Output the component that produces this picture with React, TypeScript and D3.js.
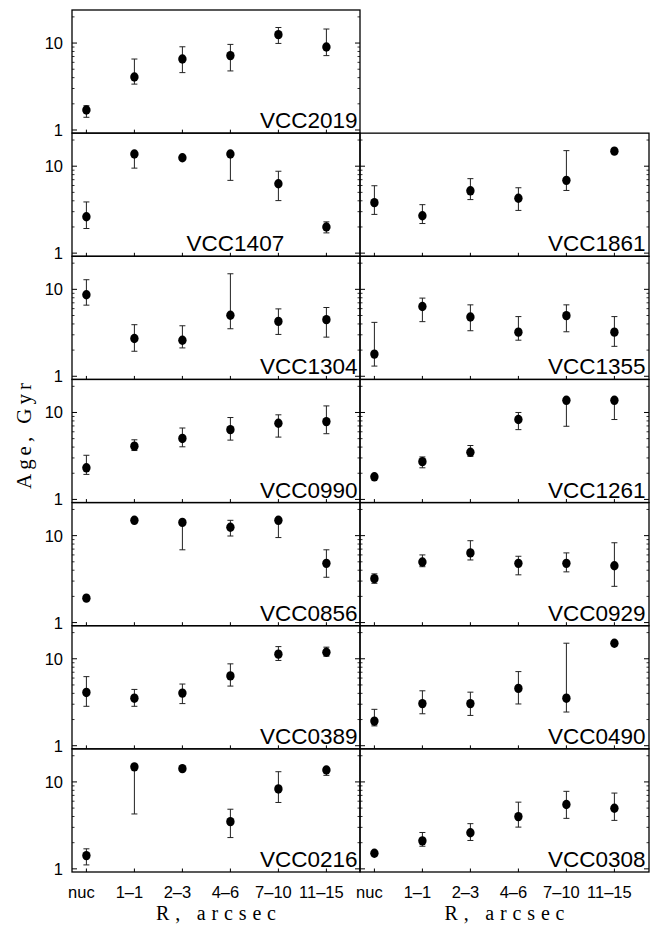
import React from "react";
import * as d3 from "d3";

// ---- data ----
const categories = ["nuc", "1–1", "2–3", "4–6", "7–10", "11–15"];
const yTickValues = [1, 10];
const yMinorValues = [2, 3, 4, 5, 6, 7, 8, 9, 20];

// each entry: [age, lower, upper] (Gyr); null = no error bar
type Pt = [number, number | null, number | null];

const vcc2019: Pt[] = [[1.7, 1.4, 1.9], [4.07, 3.37, 6.55], [6.55, 4.57, 9.06], [7.17, 4.78, 9.65], [12.5, 9.9, 15.1], [9.0, 7.17, 14.5]];
const vcc1407: Pt[] = [[2.62, 1.92, 3.88], [13.8, 9.5, 13.8], [12.5, null, null], [13.8, 6.87, 13.8], [6.29, 4.02, 8.75], [2.0, 1.71, 2.29]];
const vcc1861: Pt[] = [[3.81, 2.79, 5.96], [2.69, 2.19, 3.61], [5.21, 4.13, 7.19], [4.28, 3.1, 5.65], [6.87, 5.26, 15.1], [14.9, null, null]];
const vcc1304: Pt[] = [[8.67, 6.58, 12.9], [2.72, 1.94, 3.92], [2.6, 2.12, 3.81], [5.03, 3.52, 15.1], [4.28, 3.03, 5.96], [4.48, 2.82, 6.18]];
const vcc1355: Pt[] = [[1.8, 1.31, 4.17], [6.35, 4.25, 7.93], [4.81, 3.34, 6.63], [3.22, 2.6, 4.86], [4.98, 3.25, 6.63], [3.22, 2.21, 4.86]];
const vcc0990: Pt[] = [[2.31, 1.94, 3.22], [4.1, 3.65, 4.85], [5.03, 4.03, 6.63], [6.35, 4.81, 8.75], [7.51, 5.21, 9.4], [7.86, 5.7, 11.9]];
const vcc1261: Pt[] = [[1.82, null, null], [2.72, 2.31, 3.08], [3.49, 3.13, 4.17], [8.3, 6.35, 10.0], [13.8, 6.94, 13.8], [13.8, 8.3, 13.8]];
const vcc0856: Pt[] = [[1.91, null, null], [15.0, null, null], [14.2, 6.87, 14.2], [12.5, 9.9, 15.0], [15.0, 9.5, 15.0], [4.8, 3.32, 6.87]];
const vcc0929: Pt[] = [[3.2, 2.83, 3.63], [4.97, 4.39, 6.0], [6.33, 5.25, 8.74], [4.8, 3.54, 5.79], [4.8, 3.83, 6.33], [4.5, 2.61, 8.28]];
const vcc0389: Pt[] = [[4.1, 2.84, 6.23], [3.52, 2.84, 4.44], [4.03, 3.05, 5.12], [6.35, 4.85, 8.74], [11.3, 9.56, 13.8], [11.9, 10.7, 13.6]];
const vcc0490: Pt[] = [[1.92, 1.69, 2.62], [3.05, 2.33, 4.28], [3.05, 2.23, 4.13], [4.56, 3.02, 7.12], [3.52, 2.44, 15.1], [15.1, null, null]];
const vcc0216: Pt[] = [[1.42, 1.11, 1.7], [14.9, 4.28, 14.9], [14.2, null, null], [3.49, 2.29, 4.85], [8.3, 5.8, 13.1], [13.7, 11.9, 14.6]];
const vcc0308: Pt[] = [[1.51, null, null], [2.1, 1.82, 2.62], [2.6, 2.12, 3.31], [3.99, 3.02, 5.85], [5.5, 3.81, 7.79], [4.98, 3.61, 7.44]];

const panelNames = ["VCC2019", "VCC1407", "VCC1861", "VCC1304", "VCC1355", "VCC0990", "VCC1261", "VCC0856", "VCC0929", "VCC0389", "VCC0490", "VCC0216", "VCC0308"];
const panelData = [vcc2019, vcc1407, vcc1861, vcc1304, vcc1355, vcc0990, vcc1261, vcc0856, vcc0929, vcc0389, vcc0490, vcc0216, vcc0308];
const panelRow = [0, 1, 1, 2, 2, 3, 3, 4, 4, 5, 5, 6, 6];
const panelCol = [0, 0, 1, 0, 1, 0, 1, 0, 1, 0, 1, 0, 1];
// x (in category units) where the panel name ends
const labelEnd = [6.65, 5.12, 6.65, 6.65, 6.65, 6.65, 6.65, 6.65, 6.65, 6.65, 6.65, 6.65, 6.65];

// ---- layout ----
const W = 657;
const H = 928;
const TOP = 10;
const BOTTOM = 872;
const NROWS = 7;
const colLeft = [72, 360];
const colRight = [360, 649];
const rowH = (BOTTOM - TOP) / NROWS;

const sans = "'Liberation Sans', Arial, Helvetica, sans-serif";
const serif = "'Liberation Serif', 'DejaVu Serif', 'Times New Roman', serif";

function Panel({ idx }: { idx: number }) {
  const r = panelRow[idx];
  const c = panelCol[idx];
  const top = TOP + r * rowH;
  const bot = top + rowH;
  const left = colLeft[c];
  const right = colRight[c];
  const x = d3.scaleLinear().domain([0.7, 6.7]).range([left, left + 288]);
  const y = d3.scaleLog().domain([0.92, 24]).range([bot, top]);
  const data = panelData[idx];
  const isBottom = r === NROWS - 1;
  const showY = c === 0;
  return (
    <g>
      {/* y ticks */}
      {yTickValues.map((v) => (
        <g key={"yt" + v}>
          <line x1={left} x2={left + 5} y1={y(v)} y2={y(v)} stroke="#000" strokeWidth={1} />
          <line x1={right} x2={right - 5} y1={y(v)} y2={y(v)} stroke="#000" strokeWidth={1} />
          {showY && (
            <text x={left - 9} y={y(v) + 6} textAnchor="end" fontFamily={sans} fontSize={16.5} fill="#000">
              {v}
            </text>
          )}
        </g>
      ))}
      {yMinorValues.map((v) => (
        <g key={"ym" + v}>
          <line x1={left} x2={left + 2.5} y1={y(v)} y2={y(v)} stroke="#000" strokeWidth={0.8} />
          <line x1={right} x2={right - 2.5} y1={y(v)} y2={y(v)} stroke="#000" strokeWidth={0.8} />
        </g>
      ))}
      {/* x ticks */}
      {categories.map((cat, i) => (
        <g key={"xt" + i}>
          <line x1={x(i + 1)} x2={x(i + 1)} y1={bot} y2={bot - 3.5} stroke="#000" strokeWidth={1} />
          {isBottom && (
            <text x={x(i + 1) - 5} y={bot + 26} textAnchor="middle" fontFamily={sans} fontSize={16.5} fill="#000">
              {cat}
            </text>
          )}
        </g>
      ))}
      {/* error bars */}
      {data.map((p, i) =>
        p[1] !== null && p[2] !== null ? (
          <g key={"eb" + i} stroke="#222" strokeWidth={1}>
            <line x1={x(i + 1)} x2={x(i + 1)} y1={y(p[1] as number)} y2={y(p[2] as number)} />
            <line x1={x(i + 1) - 3} x2={x(i + 1) + 3} y1={y(p[1] as number)} y2={y(p[1] as number)} />
            <line x1={x(i + 1) - 3} x2={x(i + 1) + 3} y1={y(p[2] as number)} y2={y(p[2] as number)} />
          </g>
        ) : null
      )}
      {/* markers */}
      {data.map((p, i) => (
        <ellipse key={"m" + i} cx={x(i + 1)} cy={y(p[0])} rx={4.2} ry={4.7} fill="#000" />
      ))}
      {/* frame */}
      <rect x={left} y={top} width={right - left} height={bot - top} fill="none" stroke="#000" strokeWidth={1.3} />
      {/* name */}
      <text x={x(labelEnd[idx])} y={bot - 5} textAnchor="end" fontFamily={sans} fontSize={22.5} fill="#000">
        {panelNames[idx]}
      </text>
      {isBottom && (
        <text
          x={(left + right) / 2}
          y={920}
          textAnchor="middle"
          fontFamily={serif}
          fontSize={20}
          textLength={120}
          lengthAdjust="spacing"
          fill="#000"
        >
          R, arcsec
        </text>
      )}
    </g>
  );
}

export default function App() {
  return (
    <svg
      width={W}
      height={H}
      viewBox={`0 0 ${W} ${H}`}
      style={{ position: "absolute", left: 0, top: 0, background: "#fff", display: "block" }}
    >
      <rect x={0} y={0} width={W} height={H} fill="#fff" />
      {panelNames.map((_, i) => (
        <Panel key={i} idx={i} />
      ))}
      <text
        transform="translate(31,436) rotate(-90)"
        textAnchor="middle"
        fontFamily={serif}
        fontSize={21}
        textLength={106}
        lengthAdjust="spacing"
        fill="#000"
      >
        Age, Gyr
      </text>
    </svg>
  );
}
